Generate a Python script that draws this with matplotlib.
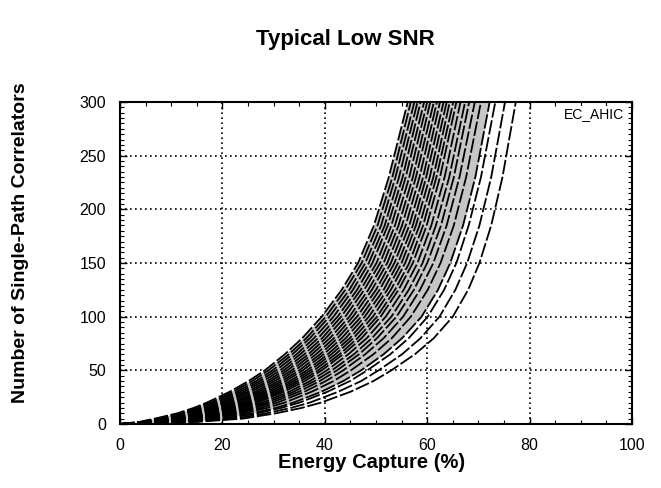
import matplotlib
matplotlib.use("Agg")
import matplotlib.pyplot as plt
from matplotlib.ticker import MultipleLocator

plt.rcParams['font.family'] = ['Liberation Sans', 'DejaVu Sans']

# Number of single-path correlators (y) at which each curve's energy capture (x, %) was read
correlator_levels = [0, 2, 5, 10, 15, 20, 30, 40, 50, 65, 80, 100, 125, 150, 185, 230, 300]

# Energy capture (%) for each curve at the levels above
energy_curves = [
    [0, 3.8, 6.8, 11.2, 14.4, 17.0, 21.4, 25.1, 28.3, 32.2, 35.6, 39.4, 43.3, 46.5, 49.6, 52.5, 56.2],
    [0, 4.1, 7.3, 11.8, 15.0, 17.7, 22.1, 25.8, 29.0, 33.0, 36.4, 40.2, 44.0, 47.2, 50.3, 53.2, 56.8],
    [0, 4.5, 7.8, 12.4, 15.7, 18.3, 22.8, 26.6, 29.8, 33.7, 37.1, 40.9, 44.8, 47.9, 51.0, 53.8, 57.5],
    [0, 4.8, 8.3, 12.9, 16.3, 19.0, 23.5, 27.3, 30.5, 34.5, 37.9, 41.7, 45.5, 48.6, 51.7, 54.5, 58.1],
    [0, 5.1, 8.9, 13.5, 16.9, 19.7, 24.2, 28.0, 31.3, 35.2, 38.7, 42.5, 46.3, 49.3, 52.3, 55.2, 58.7],
    [0, 5.5, 9.4, 14.1, 17.6, 20.3, 24.9, 28.8, 32.0, 36.0, 39.5, 43.2, 47.0, 50.1, 53.0, 55.8, 59.4],
    [0, 5.8, 9.9, 14.7, 18.2, 21.0, 25.6, 29.5, 32.7, 36.8, 40.2, 44.0, 47.7, 50.8, 53.7, 56.5, 60.0],
    [0, 6.2, 10.4, 15.3, 18.8, 21.7, 26.4, 30.2, 33.5, 37.5, 41.0, 44.8, 48.5, 51.5, 54.4, 57.2, 60.6],
    [0, 6.5, 10.9, 15.8, 19.5, 22.4, 27.1, 31.0, 34.2, 38.3, 41.8, 45.5, 49.2, 52.2, 55.1, 57.8, 61.3],
    [0, 6.8, 11.4, 16.4, 20.1, 23.0, 27.8, 31.7, 35.0, 39.1, 42.5, 46.3, 50.0, 52.9, 55.8, 58.5, 61.9],
    [0, 7.2, 12.0, 17.0, 20.7, 23.7, 28.5, 32.4, 35.7, 39.8, 43.3, 47.1, 50.7, 53.6, 56.5, 59.2, 62.5],
    [0, 7.5, 12.5, 17.6, 21.4, 24.4, 29.2, 33.2, 36.5, 40.6, 44.1, 47.8, 51.5, 54.3, 57.2, 59.8, 63.2],
    [0, 7.8, 13.0, 18.1, 22.0, 25.0, 29.9, 33.9, 37.2, 41.3, 44.9, 48.6, 52.2, 55.0, 57.8, 60.5, 63.8],
    [0, 8.2, 13.5, 18.7, 22.6, 25.7, 30.6, 34.6, 37.9, 42.1, 45.6, 49.4, 52.9, 55.7, 58.5, 61.2, 64.4],
    [0, 8.5, 14.0, 19.3, 23.3, 26.4, 31.3, 35.3, 38.7, 42.9, 46.4, 50.2, 53.7, 56.5, 59.2, 61.8, 65.1],
    [0, 8.8, 14.5, 19.9, 23.9, 27.0, 32.0, 36.1, 39.4, 43.6, 47.2, 50.9, 54.4, 57.2, 59.9, 62.5, 65.7],
    [0, 9.3, 15.2, 20.7, 24.7, 27.9, 33.0, 37.1, 40.4, 44.6, 48.2, 51.9, 55.4, 58.1, 60.8, 63.4, 66.5],
    [0, 9.7, 15.9, 21.4, 25.6, 28.8, 33.9, 38.0, 41.4, 45.7, 49.2, 53.0, 56.4, 59.1, 61.7, 64.3, 67.4],
    [0, 10.2, 16.6, 22.2, 26.4, 29.7, 34.9, 39.0, 42.4, 46.7, 50.2, 54.0, 57.4, 60.0, 62.7, 65.2, 68.2],
    [0, 10.7, 17.5, 23.2, 27.5, 30.8, 36.0, 40.2, 43.6, 47.9, 51.5, 55.3, 58.6, 61.2, 63.8, 66.3, 69.3],
    [0, 11.4, 18.5, 24.3, 28.7, 32.2, 37.4, 41.7, 45.1, 49.5, 53.1, 56.8, 60.1, 62.6, 65.2, 67.6, 70.5],
    [0, 12.3, 19.9, 25.9, 30.4, 33.9, 39.3, 43.6, 47.1, 51.5, 55.1, 58.9, 62.1, 64.5, 67.0, 69.4, 72.2],
    [0, 12.9, 20.7, 26.8, 31.5, 35.1, 40.5, 44.9, 48.3, 52.8, 56.4, 60.1, 63.3, 65.7, 68.1, 70.5, 73.3],
    [0, 13.9, 22.3, 28.6, 33.4, 37.1, 42.6, 47.1, 50.5, 55.1, 58.7, 62.4, 65.5, 67.8, 70.2, 72.5, 75.2],
    [0, 15.0, 24.0, 30.5, 35.5, 39.3, 45.0, 49.5, 53.0, 57.6, 61.3, 65.0, 68.0, 70.2, 72.5, 74.7, 77.3],
]

x_ticks = [0, 20, 40, 60, 80, 100]
y_ticks = [0, 50, 100, 150, 200, 250, 300]

fig = plt.figure(figsize=(6.61, 4.88), dpi=100)
ax = fig.add_axes([120 / 661, 1 - 424 / 488, (632 - 120) / 661, (424 - 102) / 488])

# halftone-like shading of the dense part of the curve family
ax.fill_betweenx(correlator_levels, energy_curves[0], energy_curves[21], color='#c6c6c6', lw=0, zorder=2)

for xs in energy_curves:
    ax.plot(xs, correlator_levels, color='black', lw=1.3, dashes=(8, 1.5), zorder=3)

ax.set_xlim(0, 100)
ax.set_ylim(0, 300)
ax.set_xticks(x_ticks)
ax.set_yticks(y_ticks)
ax.xaxis.set_minor_locator(MultipleLocator(5))
ax.yaxis.set_minor_locator(MultipleLocator(5))
ax.tick_params(which='both', direction='in', top=True, right=True, color='black')
ax.tick_params(which='major', length=5, width=1, labelsize=11.5, pad=10)
ax.tick_params(which='minor', length=3, width=0.8)
for s in ax.spines.values():
    s.set_linewidth(1.5)

ax.grid(True, which='major', color='black', linestyle=(0, (1, 2)), linewidth=1.2, zorder=1)

ax.text(0.985, 0.985, 'EC_AHIC', transform=ax.transAxes, ha='right', va='top', fontsize=10, zorder=4,
        bbox=dict(facecolor='white', edgecolor='none', pad=0.5))

fig.text(345 / 661, 1 - 40 / 488, 'Typical Low SNR', ha='center', va='center', fontsize=16, fontweight='bold')
fig.text(372 / 661, 1 - 463 / 488, 'Energy Capture (%)', ha='center', va='center', fontsize=14.5, fontweight='bold')
fig.text(21 / 661, 1 - 243 / 488, 'Number of Single-Path Correlators', ha='center', va='center',
         rotation=90, fontsize=14, fontweight='bold')

fig.savefig('out.png', dpi=100, facecolor='white')
